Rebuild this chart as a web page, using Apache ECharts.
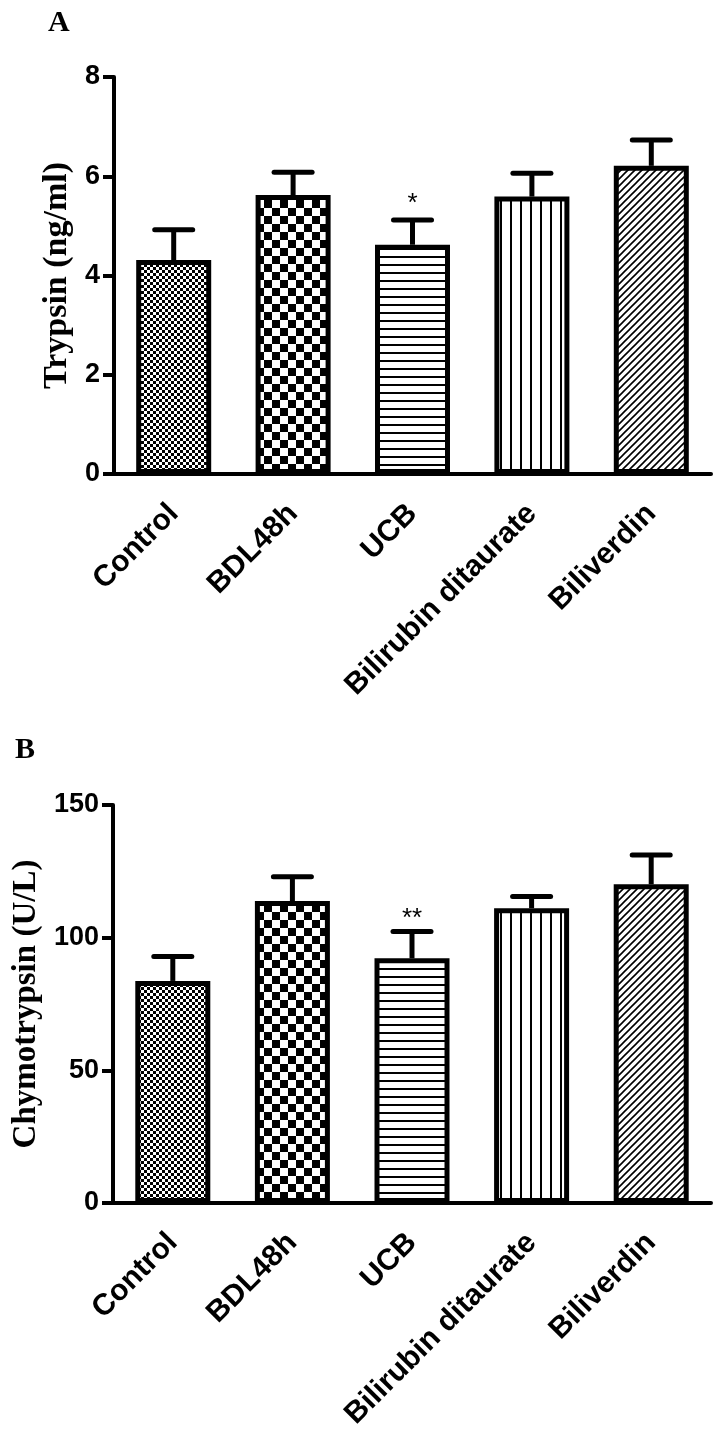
<!DOCTYPE html>
<html>
<head>
<meta charset="utf-8">
<script src="https://cdn.jsdelivr.net/npm/echarts@6/dist/echarts.min.js"></script>
<style>
html,body{margin:0;padding:0;background:#fff;}
#chart{width:722px;height:1433px;}
</style>
</head>
<body>
<div id="chart"></div>
<script>
// ---- data ----
const categories = ['Control', 'BDL48h', 'UCB', 'Bilirubin ditaurate', 'Biliverdin'];
const trypsinMean = [4.31, 5.62, 4.62, 5.59, 6.21];
const trypsinSEM  = [0.61, 0.46, 0.50, 0.47, 0.52];
const trypsinSig  = ['', '', '*', '', ''];
const chymoMean   = [83.7, 113.8, 92.2, 111.1, 120.1];
const chymoSEM    = [9.2, 9.2, 10.1, 4.4, 11.1];
const chymoSig    = ['', '', '**', '', ''];
const trypsinAxis = { min: 0, max: 8, interval: 2, name: 'Trypsin (ng/ml)' };
const chymoAxis   = { min: 0, max: 150, interval: 50, name: 'Chymotrypsin (U/L)' };
const panelLabels = ['A', 'B'];

// ---- patterns ----
function makeCanvas(w, h, draw) {
  const c = document.createElement('canvas');
  c.width = w; c.height = h;
  const ctx = c.getContext('2d');
  ctx.fillStyle = '#fff'; ctx.fillRect(0, 0, w, h);
  ctx.fillStyle = '#000'; ctx.strokeStyle = '#000';
  draw(ctx);
  return c;
}
const patFine = makeCanvas(6, 6, ctx => { ctx.fillRect(0, 0, 3, 3); ctx.fillRect(3, 3, 3, 3); });
const patCoarse = makeCanvas(16, 16, ctx => { ctx.fillRect(0, 0, 8, 8); ctx.fillRect(8, 8, 8, 8); });
const patHoriz = makeCanvas(8, 8, ctx => { ctx.fillRect(0, 0, 8, 2); });
const patVert = makeCanvas(10, 10, ctx => { ctx.fillRect(0, 0, 2, 10); });
const patDiag = makeCanvas(7, 7, ctx => {
  ctx.lineWidth = 1.6;
  ctx.beginPath();
  ctx.moveTo(-1, 8); ctx.lineTo(8, -1);
  ctx.moveTo(-8, 8); ctx.lineTo(1, -1);
  ctx.moveTo(6, 8); ctx.lineTo(15, -1);
  ctx.stroke();
});
const patterns = [patFine, patCoarse, patHoriz, patVert, patDiag];

function barData(values) {
  return values.map((v, i) => ({
    value: v,
    itemStyle: { color: { image: patterns[i], repeat: 'repeat' } }
  }));
}
function errData(mean, sem) {
  return mean.map((m, i) => [i, m, m + sem[i]]);
}
function errRender(sig, starGap) {
  return function (params, api) {
    const i = api.value(0);
    const p0 = api.coord([i, api.value(1)]);
    const p1 = api.coord([i, api.value(2)]);
    const children = [
      { type: 'line', shape: { x1: p0[0], y1: p0[1], x2: p1[0], y2: p1[1] },
        style: { stroke: '#000', lineWidth: 5 } },
      { type: 'line', shape: { x1: p1[0] - 19, y1: p1[1], x2: p1[0] + 19, y2: p1[1] },
        style: { stroke: '#000', lineWidth: 5, lineCap: 'round' } }
    ];
    const s = sig[params.dataIndex];
    if (s) {
      children.push({ type: 'text', x: p1[0], y: p1[1] - starGap,
        style: { text: s, fill: '#000', font: '26px "Liberation Sans", Arial, sans-serif',
                 align: 'center', verticalAlign: 'middle' } });
    }
    return { type: 'group', children };
  };
}

const tickLabel = { color: '#000', fontFamily: '"Liberation Sans", Arial, sans-serif', fontWeight: 'bold', fontSize: 27 };
function xAxisCfg(gridIndex) {
  return {
    type: 'category', gridIndex, data: categories,
    axisLine: { lineStyle: { color: '#000', width: 4 } },
    axisTick: { alignWithLabel: true, length: 11, lineStyle: { color: '#000', width: 4 } },
    axisLabel: Object.assign({ rotate: 45, margin: 35, interval: 0, fontSize: 30 }, {
      color: '#000', fontFamily: '"Liberation Sans", Arial, sans-serif', fontWeight: 'bold' })
  };
}
function yAxisCfg(gridIndex, ax, nameGap, nameSize) {
  return {
    type: 'value', gridIndex, min: ax.min, max: ax.max, interval: ax.interval,
    name: ax.name, nameLocation: 'middle', nameGap,
    nameTextStyle: { color: '#000', fontFamily: '"Liberation Serif", "Times New Roman", serif', fontWeight: 'bold', fontSize: nameSize },
    axisLine: { show: true, lineStyle: { color: '#000', width: 4 } },
    axisTick: { show: true, length: 11, lineStyle: { color: '#000', width: 4 } },
    axisLabel: Object.assign({ margin: 14 }, tickLabel),
    splitLine: { show: false }
  };
}

const chart = echarts.init(document.getElementById('chart'), null, { renderer: 'canvas' });
chart.setOption({
  animation: false,
  backgroundColor: '#fff',
  grid: [
    { left: 114, width: 597, top: 77, height: 397 },
    { left: 113, width: 598, top: 805, height: 398 }
  ],
  xAxis: [xAxisCfg(0), xAxisCfg(1)],
  yAxis: [yAxisCfg(0, trypsinAxis, 40, 34), yAxisCfg(1, chymoAxis, 65, 33)],
  graphic: [
    { type: 'text', left: 48, top: 8, style: { text: panelLabels[0], fill: '#000', font: 'bold 30px "Liberation Serif", "Times New Roman", serif' } },
    { type: 'text', left: 15, top: 735, style: { text: panelLabels[1], fill: '#000', font: 'bold 30px "Liberation Serif", "Times New Roman", serif' } }
  ],
  series: [
    { type: 'bar', xAxisIndex: 0, yAxisIndex: 0, barWidth: 75, data: barData(trypsinMean),
      itemStyle: { borderColor: '#000', borderWidth: 5 }, z: 3 },
    { type: 'custom', xAxisIndex: 0, yAxisIndex: 0, data: errData(trypsinMean, trypsinSEM),
      renderItem: errRender(trypsinSig, 16), z: 2 },
    { type: 'bar', xAxisIndex: 1, yAxisIndex: 1, barWidth: 75, data: barData(chymoMean),
      itemStyle: { borderColor: '#000', borderWidth: 5 }, z: 3 },
    { type: 'custom', xAxisIndex: 1, yAxisIndex: 1, data: errData(chymoMean, chymoSEM),
      renderItem: errRender(chymoSig, 13), z: 2 }
  ]
});
</script>
</body>
</html>
